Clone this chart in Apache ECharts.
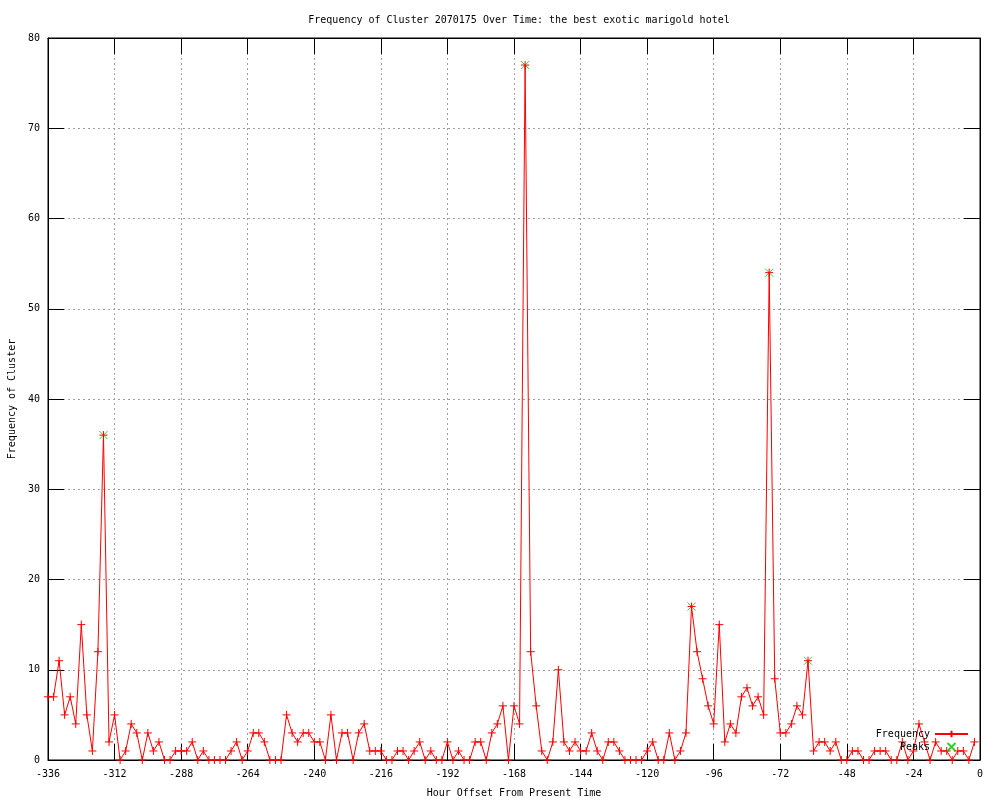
<!DOCTYPE html>
<html>
<head>
<meta charset="utf-8">
<script src="https://cdn.jsdelivr.net/npm/echarts@6/dist/echarts.min.js"></script>
<style>
html,body{margin:0;padding:0;background:#fff;overflow:hidden;}
#chart{width:1000px;height:800px;}
</style>
</head>
<body>
<div id="chart"></div>
<script>
// Hour offsets (x) and cluster frequency (y)
var hours = [-336,-334,-332,-330,-328,-326,-324,-322,-320,-318,-316,-314,-312,-310,-308,-306,-304,-302,-300,-298,
  -296,-294,-292,-290,-288,-286,-284,-282,-280,-278,-276,-274,-272,-270,-268,-266,-264,-262,-260,-258,
  -256,-254,-252,-250,-248,-246,-244,-242,-240,-238,-236,-234,-232,-230,-228,-226,-224,-222,-220,-218,
  -216,-214,-212,-210,-208,-206,-204,-202,-200,-198,-196,-194,-192,-190,-188,-186,-184,-182,-180,-178,
  -176,-174,-172,-170,-168,-166,-164,-162,-160,-158,-156,-154,-152,-150,-148,-146,-144,-142,-140,-138,
  -136,-134,-132,-130,-128,-126,-124,-122,-120,-118,-116,-114,-112,-110,-108,-106,-104,-102,-100,-98,
  -96,-94,-92,-90,-88,-86,-84,-82,-80,-78,-76,-74,-72,-70,-68,-66,-64,-62,-60,-58,
  -56,-54,-52,-50,-48,-46,-44,-42,-40,-38,-36,-34,-32,-30,-28,-26,-24,-22,-20,-18,
  -16,-14,-12,-10,-8,-6,-4,-2];
var frequency = [7,7,11,5,7,4,15,5,1,12,36,2,5,0,1,4,3,0,3,1,
  2,0,0,1,1,1,2,0,1,0,0,0,0,1,2,0,1,3,3,2,
  0,0,0,5,3,2,3,3,2,2,0,5,0,3,3,0,3,4,1,1,
  1,0,0,1,1,0,1,2,0,1,0,0,2,0,1,0,0,2,2,0,
  3,4,6,0,6,4,77,12,6,1,0,2,10,2,1,2,1,1,3,1,
  0,2,2,1,0,0,0,0,1,2,0,0,3,0,1,3,17,12,9,6,
  4,15,2,4,3,7,8,6,7,5,54,9,3,3,4,6,5,11,1,2,
  2,1,2,0,0,1,1,0,0,1,1,1,0,0,2,0,1,4,2,0,
  2,1,1,0,1,1,0,2];
var peakHours = [-316,-164,-104,-76,-62];
var peakValues = [36,77,17,54,11];

var titleText = 'Frequency of Cluster 2070175 Over Time: the best exotic marigold hotel';
var xName = 'Hour Offset From Present Time';
var yName = 'Frequency of Cluster';

var freqData = hours.map(function(h,i){return [h, frequency[i]];});
var peakData = peakHours.map(function(h,i){return [h, peakValues[i]];});

var FONT = 'DejaVu Sans Mono';
var plusPath = 'path://M0,5L10,5M5,0L5,10';
var crossPath = 'path://M0,0L10,10M10,0L0,10';

var chart = echarts.init(document.getElementById('chart'), null, {renderer:'canvas', width:1000, height:800});
var gridLine = {show:true, lineStyle:{color:'#a0a0a0', type:[2,3], width:1}};
var tickIn = {show:true, inside:true, length:16, lineStyle:{color:'#000', width:1}};
chart.setOption({
  animation:false,
  backgroundColor:'#fff',
  title:{text:titleText, left:514, top:10, textAlign:'center',
    textStyle:{fontFamily:FONT, fontSize:10, fontWeight:'normal', color:'#000'}},
  grid:{left:48, right:20, top:38, bottom:40, show:true, borderColor:'#000', borderWidth:1,
    backgroundColor:'transparent', containLabel:false, outerBoundsMode:'none'},
  legend:{
    orient:'vertical', right:26, top:724, align:'right',
    itemWidth:33, itemHeight:8, itemGap:3,
    textStyle:{fontFamily:FONT, fontSize:10, color:'#000'},
    data:['Frequency','Peaks']
  },
  xAxis:[{
    type:'value', min:-336, max:0, interval:24, position:'bottom',
    name:xName, nameLocation:'middle', nameGap:28,
    nameTextStyle:{fontFamily:FONT, fontSize:10, color:'#000'},
    axisLine:{show:true, onZero:false, lineStyle:{color:'#000'}},
    axisTick:tickIn,
    axisLabel:{fontFamily:FONT, fontSize:10, color:'#000', margin:9},
    splitLine:gridLine
  },{
    type:'value', min:-336, max:0, interval:24, position:'top',
    axisLine:{show:true, onZero:false, lineStyle:{color:'#000'}},
    axisTick:tickIn, axisLabel:{show:false}, splitLine:{show:false}
  }],
  yAxis:[{
    type:'value', min:0, max:80, interval:10, position:'left',
    name:yName, nameLocation:'middle', nameGap:30, nameRotate:90,
    nameTextStyle:{fontFamily:FONT, fontSize:10, color:'#000'},
    axisLine:{show:true, onZero:false, lineStyle:{color:'#000'}},
    axisTick:tickIn,
    axisLabel:{fontFamily:FONT, fontSize:10, color:'#000', margin:8},
    splitLine:gridLine
  },{
    type:'value', min:0, max:80, interval:10, position:'right',
    axisLine:{show:true, onZero:false, lineStyle:{color:'#000'}},
    axisTick:tickIn, axisLabel:{show:false}, splitLine:{show:false}
  }],
  series:[{
    name:'Peaks', type:'scatter', xAxisIndex:0, yAxisIndex:0,
    data:peakData, symbol:crossPath, symbolSize:8,
    itemStyle:{color:'#00c000', borderColor:'#00c000', borderWidth:1},
    emphasis:{disabled:true}, z:2
  },{
    name:'Frequency', type:'line', xAxisIndex:0, yAxisIndex:0,
    data:freqData, showSymbol:true, symbol:plusPath, symbolSize:8,
    clip:false,
    lineStyle:{color:'#ff0000', width:1},
    itemStyle:{color:'#ff0000', borderColor:'#ff0000', borderWidth:1},
    emphasis:{disabled:true}, z:3
  }]
});
</script>
</body>
</html>
